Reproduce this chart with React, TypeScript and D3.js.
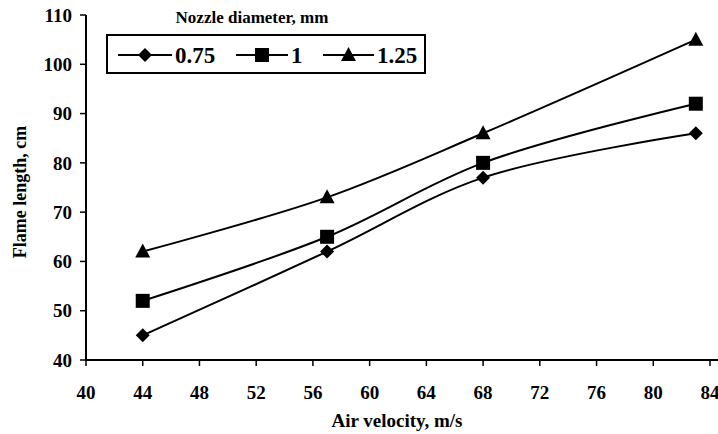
import React from 'react';
import * as d3 from 'd3';

// chart values
const velocity = [44, 57, 68, 83];
const d075 = [45, 62, 77, 86];
const d100 = [52, 65, 80, 92];
const d125 = [62, 73, 86, 105];
const seriesNames = ['0.75', '1', '1.25'];
const xTicks = [40, 44, 48, 52, 56, 60, 64, 68, 72, 76, 80, 84];
const yTicks = [40, 50, 60, 70, 80, 90, 100, 110];

const W = 718, H = 434;
const font = "'Liberation Serif', 'Times New Roman', 'DejaVu Serif', serif";

function Marker({ kind, x, y }: { kind: number; x: number; y: number }) {
  if (kind === 0) {
    const r = 7;
    return <path d={`M${x},${y - r}L${x + r},${y}L${x},${y + r}L${x - r},${y}Z`} fill="#000" />;
  }
  if (kind === 1) {
    return <rect x={x - 7} y={y - 7} width={14} height={14} fill="#000" />;
  }
  return <path d={`M${x},${y - 8}L${x + 7.5},${y + 6}L${x - 7.5},${y + 6}Z`} fill="#000" />;
}

export default function App() {
  const x = d3.scaleLinear().domain([40, 84]).range([86, 710]);
  const y = d3.scaleLinear().domain([40, 110]).range([360, 15]);
  const series = [d075, d100, d125];
  const line = d3.line<number>()
    .x((_, i) => x(velocity[i]))
    .y(d => y(d))
    .curve(d3.curveCatmullRom.alpha(0.5));

  const legendItems = [
    { x0: 118, x1: 172, label: 175 },
    { x0: 236, x1: 288, label: 291 },
    { x0: 323, x1: 374, label: 377 },
  ];

  return (
    <svg width={W} height={H}
      style={{ position: 'absolute', left: 0, top: 0, background: '#fff', fontFamily: font, fontWeight: 'bold' }}>
      {/* axes */}
      <line x1={x(40)} x2={x(40)} y1={y(110)} y2={y(40)} stroke="#000" strokeWidth={2} />
      <line x1={x(40)} x2={W} y1={y(40)} y2={y(40)} stroke="#000" strokeWidth={2} />
      {yTicks.map(t => (
        <g key={t}>
          <line x1={x(40) - 6} x2={x(40)} y1={y(t)} y2={y(t)} stroke="#000" strokeWidth={1.5} />
          <text x={x(40) - 14} y={y(t)} dy="0.35em" textAnchor="end" fontSize={19}>{t}</text>
        </g>
      ))}
      {xTicks.map(t => (
        <g key={t}>
          <line x1={x(t)} x2={x(t)} y1={y(40)} y2={y(40) + 6} stroke="#000" strokeWidth={1.5} />
          <text x={x(t)} y={y(40) + 32} dy="0.35em" textAnchor="middle" fontSize={19}>{t}</text>
        </g>
      ))}
      <text x={397} y={427} textAnchor="middle" fontSize={19}>Air velocity, m/s</text>
      <text transform="translate(26,192) rotate(-90)" textAnchor="middle" fontSize={18}>Flame length, cm</text>

      {/* series */}
      {series.map((s, k) => (
        <g key={k}>
          <path d={line(s) || ''} fill="none" stroke="#000" strokeWidth={2} />
          {s.map((v, i) => <Marker key={i} kind={k} x={x(velocity[i])} y={y(v)} />)}
        </g>
      ))}

      {/* legend */}
      <text x={252} y={23} textAnchor="middle" fontSize={17}>Nozzle diameter, mm</text>
      <rect x={107} y={35} width={318} height={38} fill="#fff" stroke="#000" strokeWidth={2} />
      {legendItems.map((it, k) => (
        <g key={k}>
          <line x1={it.x0} x2={it.x1} y1={55} y2={55} stroke="#000" strokeWidth={2} />
          <Marker kind={k} x={(it.x0 + it.x1) / 2} y={55} />
          <text x={it.label} y={55} dy="0.35em" fontSize={23}>{seriesNames[k]}</text>
        </g>
      ))}
    </svg>
  );
}
